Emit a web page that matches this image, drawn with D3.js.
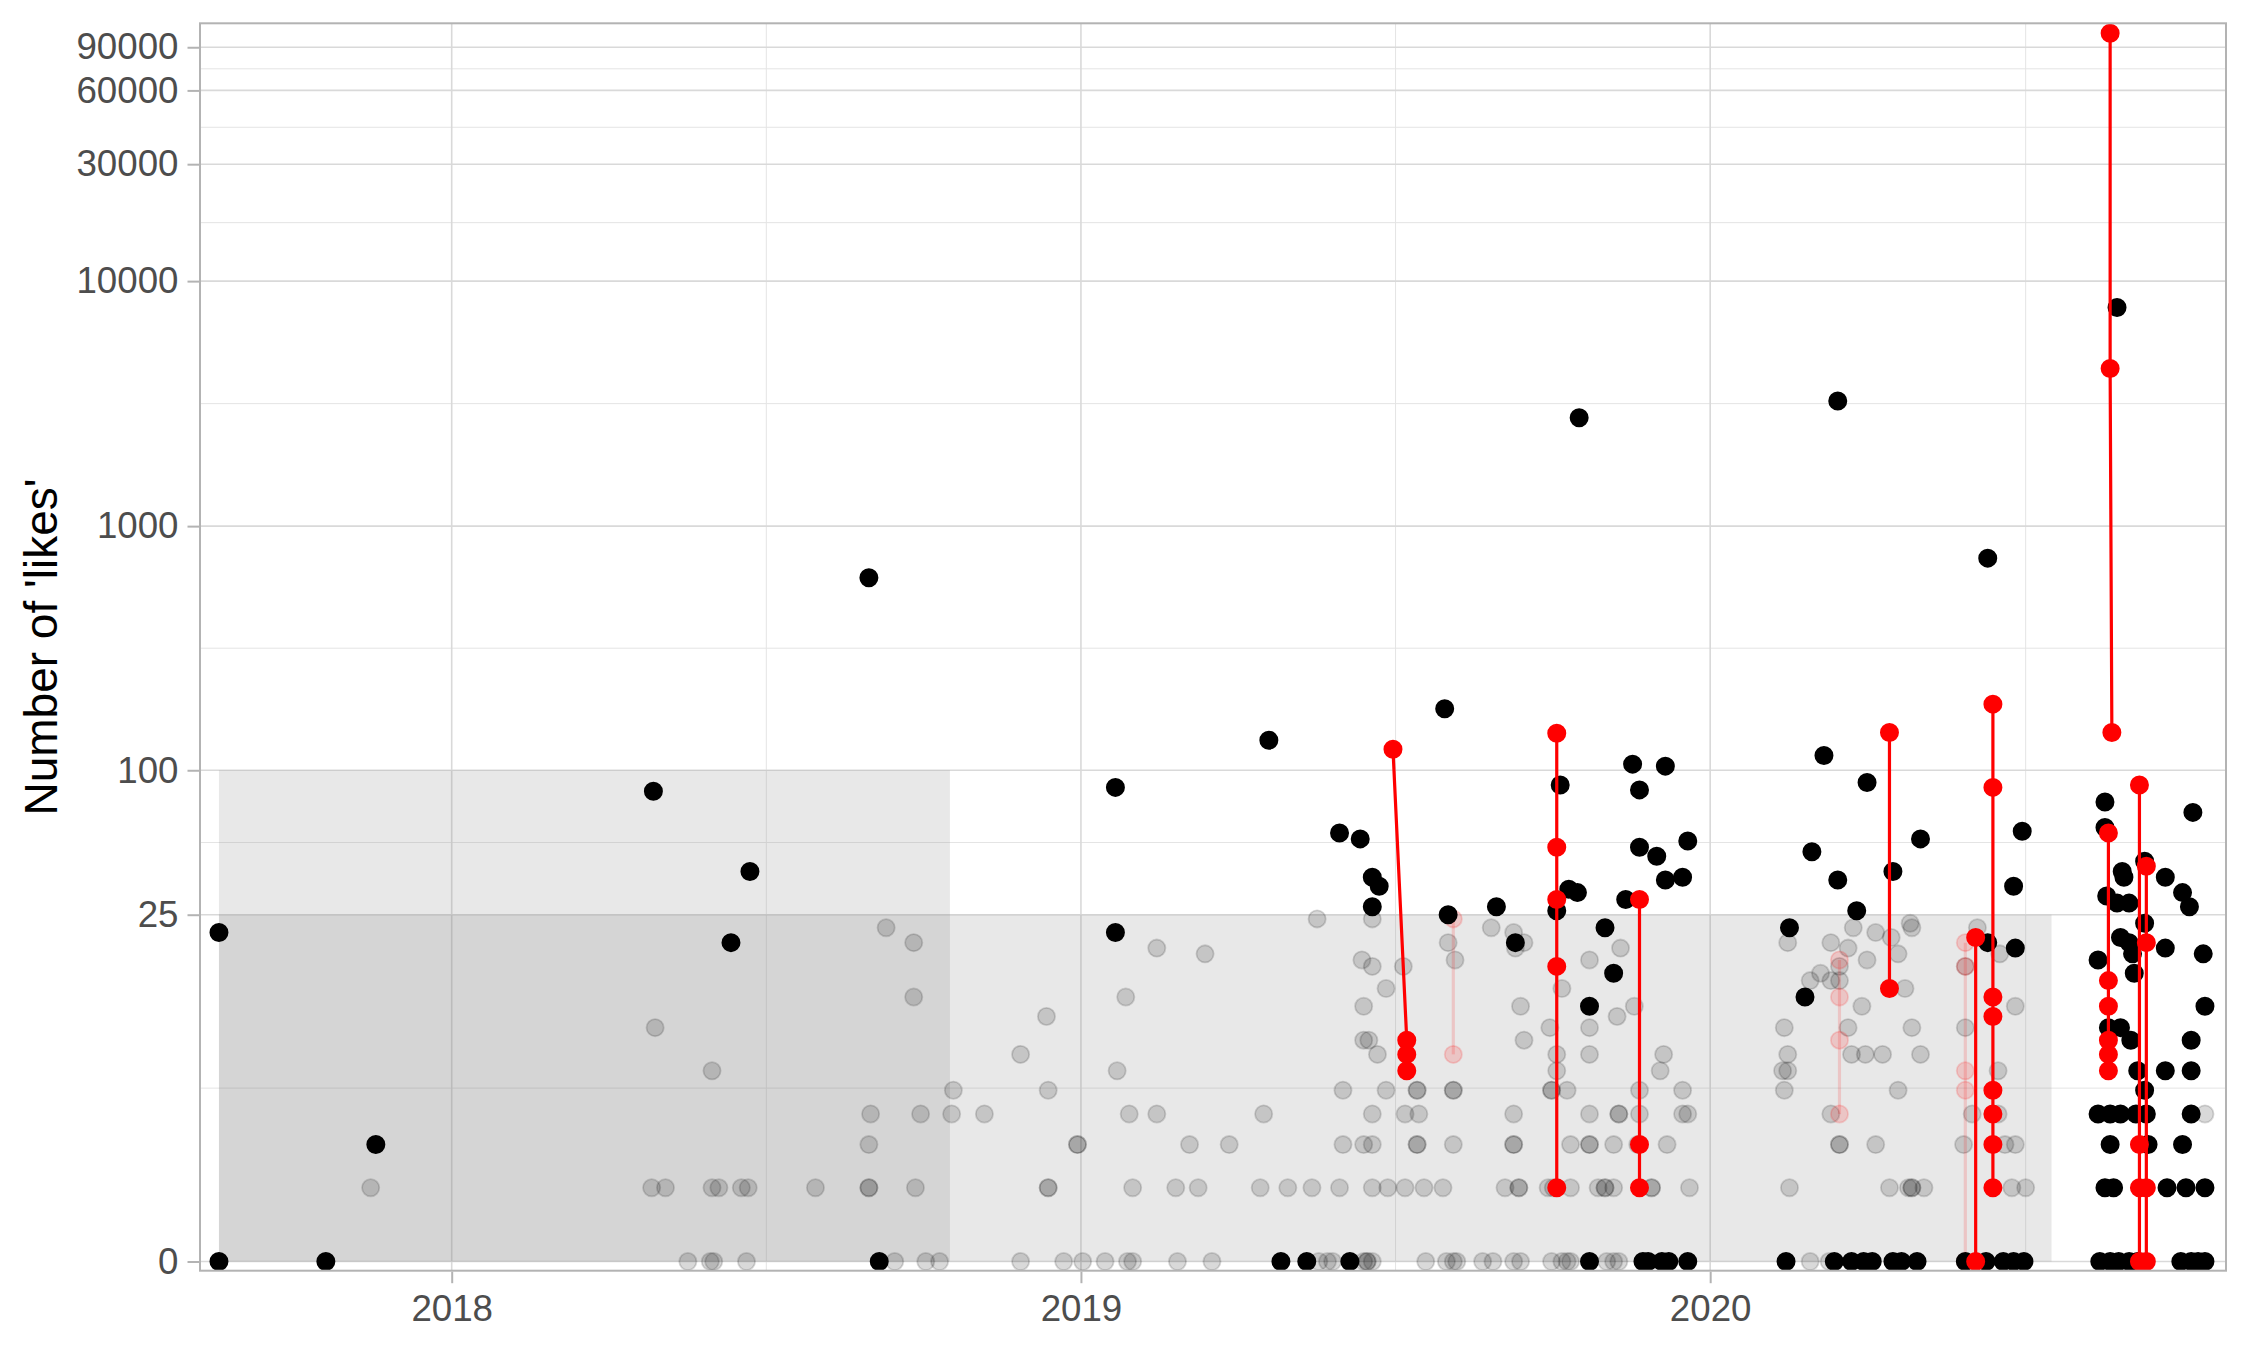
<!DOCTYPE html>
<html>
<head>
<meta charset="utf-8">
<script src="https://cdn.jsdelivr.net/npm/d3@7"></script>
<style>
  body { margin: 0; background: #fff; }
  svg { display: block; font-family: 'Liberation Sans', Arial, Helvetica, sans-serif; }
</style>
</head>
<body>
<svg width="2250" height="1350"></svg>
<script>
// posts drawn fully opaque (date, likes)
const solidPosts = [
  ['2017-08-19', 21], ['2017-08-19', 0], ['2017-10-20', 0], ['2017-11-18', 2],
  ['2018-04-28', 82], ['2018-06-12', 19], ['2018-06-23', 38], ['2018-08-31', 615], ['2018-09-06', 0],
  ['2019-01-21', 21], ['2019-01-21', 85], ['2019-04-20', 133], ['2019-04-27', 0], ['2019-05-12', 0],
  ['2019-05-31', 55], ['2019-06-06', 0], ['2019-06-12', 52], ['2019-06-19', 27], ['2019-06-19', 36],
  ['2019-06-23', 33], ['2019-07-31', 179], ['2019-08-02', 25], ['2019-08-30', 27], ['2019-09-10', 19],
  ['2019-10-04', 26], ['2019-10-06', 87], ['2019-10-11', 32], ['2019-10-16', 31], ['2019-10-17', 2770],
  ['2019-10-23', 10], ['2019-10-23', 0], ['2019-11-01', 22], ['2019-11-06', 14], ['2019-11-13', 29],
  ['2019-11-17', 106], ['2019-11-21', 83], ['2019-11-21', 48], ['2019-11-23', 0], ['2019-11-26', 0],
  ['2019-12-01', 44], ['2019-12-04', 0], ['2019-12-06', 104], ['2019-12-06', 35], ['2019-12-08', 0],
  ['2019-12-16', 36], ['2019-12-19', 51], ['2019-12-19', 0],
  ['2020-02-14', 0], ['2020-02-16', 22], ['2020-02-25', 11], ['2020-02-29', 46], ['2020-03-07', 115],
  ['2020-03-13', 0], ['2020-03-15', 3240], ['2020-03-15', 35], ['2020-03-23', 0], ['2020-03-26', 26],
  ['2020-03-30', 0], ['2020-04-01', 89], ['2020-04-04', 0], ['2020-04-16', 0], ['2020-04-16', 38],
  ['2020-04-21', 0], ['2020-04-30', 0], ['2020-05-02', 52], ['2020-05-28', 0], ['2020-06-09', 0],
  ['2020-06-10', 740], ['2020-06-10', 19], ['2020-06-19', 0], ['2020-06-25', 0], ['2020-06-25', 33],
  ['2020-06-26', 18], ['2020-06-30', 56], ['2020-07-01', 0],
  ['2020-08-13', 16], ['2020-08-13', 3], ['2020-08-14', 0], ['2020-08-17', 74], ['2020-08-17', 58],
  ['2020-08-17', 1], ['2020-08-18', 30], ['2020-08-19', 8], ['2020-08-20', 3], ['2020-08-20', 0],
  ['2020-08-20', 2], ['2020-08-22', 1], ['2020-08-24', 7800], ['2020-08-24', 28], ['2020-08-25', 0],
  ['2020-08-26', 20], ['2020-08-26', 3], ['2020-08-26', 8], ['2020-08-27', 38], ['2020-08-28', 36],
  ['2020-08-31', 28], ['2020-08-31', 19], ['2020-08-31', 0], ['2020-09-01', 7], ['2020-09-02', 17],
  ['2020-09-03', 14], ['2020-09-04', 3], ['2020-09-05', 5], ['2020-09-05', 0], ['2020-09-09', 42],
  ['2020-09-09', 23], ['2020-09-09', 4], ['2020-09-10', 3], ['2020-09-11', 2], ['2020-09-21', 36],
  ['2020-09-21', 18], ['2020-09-21', 5], ['2020-09-22', 1], ['2020-09-30', 0], ['2020-10-01', 31],
  ['2020-10-01', 2], ['2020-10-03', 1], ['2020-10-05', 27], ['2020-10-06', 3], ['2020-10-06', 5],
  ['2020-10-06', 7], ['2020-10-06', 0], ['2020-10-07', 67], ['2020-10-10', 0], ['2020-10-13', 17],
  ['2020-10-14', 10], ['2020-10-14', 1], ['2020-10-14', 0]
];

// posts drawn faded
const fadedPosts = [
  // 0 likes
  ['2018-05-18', 0], ['2018-05-31', 0], ['2018-06-02', 0], ['2018-06-21', 0], ['2018-09-15', 0],
  ['2018-10-03', 0], ['2018-10-11', 0], ['2018-11-27', 0], ['2018-12-22', 0], ['2019-01-02', 0],
  ['2019-01-15', 0], ['2019-01-28', 0], ['2019-01-31', 0], ['2019-02-26', 0], ['2019-03-18', 0],
  ['2019-05-19', 0], ['2019-05-24', 0], ['2019-05-27', 0], ['2019-06-14', 0], ['2019-06-16', 0],
  ['2019-06-16', 0], ['2019-06-19', 0], ['2019-07-20', 0], ['2019-08-01', 0], ['2019-08-05', 0],
  ['2019-08-07', 0], ['2019-08-22', 0], ['2019-08-28', 0], ['2019-09-09', 0], ['2019-09-13', 0],
  ['2019-10-01', 0], ['2019-10-07', 0], ['2019-10-10', 0], ['2019-10-12', 0], ['2019-11-02', 0],
  ['2019-11-06', 0], ['2019-11-09', 0], ['2020-02-28', 0], ['2020-03-10', 0],
  // 1 like
  ['2017-11-15', 1], ['2018-04-27', 1], ['2018-05-05', 1], ['2018-06-01', 1], ['2018-06-05', 1],
  ['2018-06-18', 1], ['2018-06-22', 1], ['2018-07-31', 1], ['2018-08-31', 1], ['2018-08-31', 1],
  ['2018-09-27', 1], ['2018-12-13', 1], ['2018-12-13', 1], ['2019-01-31', 1], ['2019-02-25', 1],
  ['2019-03-10', 1], ['2019-04-15', 1], ['2019-05-01', 1], ['2019-05-15', 1], ['2019-05-31', 1],
  ['2019-06-19', 1], ['2019-06-28', 1], ['2019-07-08', 1], ['2019-07-19', 1], ['2019-07-30', 1],
  ['2019-09-04', 1], ['2019-09-12', 1], ['2019-09-12', 1], ['2019-09-29', 1], ['2019-10-02', 1],
  ['2019-10-12', 1], ['2019-10-28', 1], ['2019-11-01', 1], ['2019-11-01', 1], ['2019-11-06', 1],
  ['2019-11-28', 1], ['2019-11-28', 1], ['2019-12-20', 1], ['2020-02-16', 1], ['2020-04-14', 1],
  ['2020-04-25', 1], ['2020-04-27', 1], ['2020-04-27', 1], ['2020-05-04', 1], ['2020-06-24', 1],
  ['2020-07-02', 1],
  // 2 likes
  ['2018-08-31', 2], ['2018-12-30', 2], ['2018-12-30', 2], ['2019-03-05', 2], ['2019-03-28', 2],
  ['2019-06-02', 2], ['2019-06-14', 2], ['2019-06-19', 2], ['2019-07-15', 2], ['2019-07-15', 2],
  ['2019-08-05', 2], ['2019-09-09', 2], ['2019-09-09', 2], ['2019-10-12', 2], ['2019-10-23', 2],
  ['2019-10-23', 2], ['2019-11-06', 2], ['2019-11-20', 2], ['2019-12-07', 2], ['2020-03-16', 2],
  ['2020-03-16', 2], ['2020-04-06', 2], ['2020-05-27', 2], ['2020-06-20', 2], ['2020-06-26', 2],
  // 3 likes
  ['2018-09-01', 3], ['2018-09-30', 3], ['2018-10-18', 3], ['2018-11-06', 3], ['2019-01-29', 3],
  ['2019-02-14', 3], ['2019-04-17', 3], ['2019-06-19', 3], ['2019-07-08', 3], ['2019-07-16', 3],
  ['2019-09-09', 3], ['2019-10-23', 3], ['2019-11-09', 3], ['2019-11-09', 3], ['2019-11-21', 3],
  ['2019-12-16', 3], ['2019-12-19', 3], ['2020-03-11', 3], ['2020-06-01', 3], ['2020-06-16', 3],
  ['2020-10-14', 3],
  // 4 likes
  ['2018-10-19', 4], ['2018-12-13', 4], ['2019-06-02', 4], ['2019-06-27', 4], ['2019-07-15', 4],
  ['2019-07-15', 4], ['2019-08-05', 4], ['2019-08-05', 4], ['2019-10-01', 4], ['2019-10-01', 4],
  ['2019-10-10', 4], ['2019-11-21', 4], ['2019-12-16', 4], ['2020-02-13', 4], ['2020-04-19', 4],
  // 5 to 9 likes
  ['2018-06-01', 5], ['2019-01-22', 5], ['2019-10-04', 5], ['2019-12-03', 5], ['2020-02-12', 5],
  ['2020-02-15', 5], ['2020-06-16', 5],
  ['2018-11-27', 6], ['2019-06-22', 6], ['2019-10-04', 6], ['2019-10-23', 6], ['2019-12-05', 6],
  ['2020-02-15', 6], ['2020-03-23', 6], ['2020-03-31', 6], ['2020-04-10', 6], ['2020-05-02', 6],
  ['2019-06-14', 7], ['2019-06-17', 7], ['2019-09-15', 7],
  ['2018-04-29', 8], ['2019-09-30', 8], ['2019-10-23', 8], ['2020-02-13', 8], ['2020-03-21', 8],
  ['2020-04-27', 8], ['2020-05-28', 8],
  ['2018-12-12', 9], ['2019-11-08', 9],
  // 10 to 24 likes
  ['2019-06-14', 10], ['2019-09-13', 10], ['2019-11-18', 10], ['2020-03-29', 10], ['2020-06-26', 10],
  ['2018-09-26', 11], ['2019-01-27', 11],
  ['2019-06-27', 12], ['2019-10-07', 12], ['2020-04-23', 12],
  ['2020-02-28', 13], ['2020-03-11', 13], ['2020-03-16', 13],
  ['2020-03-05', 14],
  ['2019-06-19', 15], ['2019-07-07', 15], ['2020-03-16', 15], ['2020-05-28', 15],
  ['2019-06-13', 16], ['2019-08-06', 16], ['2019-10-23', 16], ['2020-04-01', 16],
  ['2019-03-14', 17], ['2020-04-19', 17], ['2020-06-17', 17],
  ['2019-02-14', 18], ['2019-09-10', 18], ['2019-11-10', 18], ['2020-03-21', 18],
  ['2018-09-26', 19], ['2019-08-02', 19], ['2019-09-15', 19], ['2020-02-15', 19], ['2020-03-11', 19],
  ['2020-04-15', 20],
  ['2019-09-09', 21], ['2020-04-06', 21],
  ['2018-09-10', 22], ['2019-08-27', 22], ['2020-03-24', 22], ['2020-04-27', 22], ['2020-06-04', 22],
  ['2020-04-26', 23],
  ['2019-05-18', 24], ['2019-06-19', 24]
];

// reply threads, drawn in red and joined by a line
const threads = [
  [['2019-07-01', 122], ['2019-07-09', 7], ['2019-07-09', 6], ['2019-07-09', 5]],
  [['2019-10-04', 142], ['2019-10-04', 48], ['2019-10-04', 29], ['2019-10-04', 15], ['2019-10-04', 1]],
  [['2019-11-21', 29], ['2019-11-21', 2], ['2019-11-21', 1]],
  [['2020-04-14', 143], ['2020-04-14', 12]],
  [['2020-06-03', 20], ['2020-06-03', 0]],
  [['2020-06-13', 187], ['2020-06-13', 85], ['2020-06-13', 11], ['2020-06-13', 9],
   ['2020-06-13', 4], ['2020-06-13', 3], ['2020-06-13', 2], ['2020-06-13', 1]],
  [['2020-08-20', 102600], ['2020-08-20', 4400], ['2020-08-21', 143]],
  [['2020-08-19', 55], ['2020-08-19', 13], ['2020-08-19', 10], ['2020-08-19', 7],
   ['2020-08-19', 6], ['2020-08-19', 5]],
  [['2020-09-06', 87], ['2020-09-06', 2], ['2020-09-06', 1], ['2020-09-06', 0]],
  [['2020-09-10', 40], ['2020-09-10', 19], ['2020-09-10', 1], ['2020-09-10', 0]]
];

// faded reply threads
const fadedThreads = [
  [['2019-08-05', 24], ['2019-08-05', 6]],
  [['2020-03-16', 16], ['2020-03-16', 11], ['2020-03-16', 7], ['2020-03-16', 3]],
  [['2020-05-28', 19], ['2020-05-28', 15], ['2020-05-28', 5], ['2020-05-28', 4], ['2020-05-28', 0]]
];

// shaded windows: start, end, upper likes
const windowStarts = ['2017-08-19', '2017-08-19'];
const windowEnds = ['2018-10-17', '2020-07-17'];
const windowTops = [100, 25];

const yTicks = [0, 25, 100, 1000, 10000, 30000, 60000, 90000];
const xTicks = ['2018-01-01', '2019-01-01', '2020-01-01'];
const xDomain = ['2017-08-08', '2020-10-26'];
const yDomain = [-0.09, 112700];

const svg = d3.select('svg');
const PANEL = { LEFT: 200, TOP: 23.3, RIGHT: 2226, BOTTOM: 1270.7 };
const R = 8.6;

const parseDate = d3.utcParse('%Y-%m-%d');

// scales
const x = d3
  .scaleUtc()
  .domain([parseDate(xDomain[0]), d3.utcHour.offset(parseDate(xDomain[1]), 5)])
  .range([PANEL.LEFT, PANEL.RIGHT]);
const y = d3.scaleSymlog().constant(1).domain(yDomain).range([PANEL.BOTTOM, PANEL.TOP]);

const px = function (d) {
  return x(parseDate(d[0]));
};
const py = function (d) {
  return y(d[1]);
};

// grid
const grid = svg.append('g').attr('class', 'grid');
const xTickDates = xTicks.map(parseDate);
const xMinor = xTickDates.map(function (d) {
  const next = d3.utcYear.offset(d, 1);
  return new Date((d.getTime() + next.getTime()) / 2);
});
const yMinor = d3.pairs(yTicks).map(function (p) {
  return (y(p[0]) + y(p[1])) / 2;
});

grid
  .selectAll('.minor-y')
  .data(yMinor)
  .enter()
  .append('line')
  .attr('x1', PANEL.LEFT)
  .attr('x2', PANEL.RIGHT)
  .attr('y1', function (d) { return d; })
  .attr('y2', function (d) { return d; })
  .attr('stroke', '#e4e4e4')
  .attr('stroke-width', 1);

grid
  .selectAll('.minor-x')
  .data(xMinor)
  .enter()
  .append('line')
  .attr('x1', function (d) { return x(d); })
  .attr('x2', function (d) { return x(d); })
  .attr('y1', PANEL.TOP)
  .attr('y2', PANEL.BOTTOM)
  .attr('stroke', '#e4e4e4')
  .attr('stroke-width', 1);

grid
  .selectAll('.major-y')
  .data(yTicks)
  .enter()
  .append('line')
  .attr('x1', PANEL.LEFT)
  .attr('x2', PANEL.RIGHT)
  .attr('y1', function (d) { return y(d); })
  .attr('y2', function (d) { return y(d); })
  .attr('stroke', '#d9d9d9')
  .attr('stroke-width', 1.6);

grid
  .selectAll('.major-x')
  .data(xTickDates)
  .enter()
  .append('line')
  .attr('x1', function (d) { return x(d); })
  .attr('x2', function (d) { return x(d); })
  .attr('y1', PANEL.TOP)
  .attr('y2', PANEL.BOTTOM)
  .attr('stroke', '#d9d9d9')
  .attr('stroke-width', 1.6);

// shaded windows
svg
  .append('g')
  .selectAll('rect')
  .data(windowTops)
  .enter()
  .append('rect')
  .attr('x', function (d, i) { return x(parseDate(windowStarts[i])); })
  .attr('width', function (d, i) {
    return x(parseDate(windowEnds[i])) - x(parseDate(windowStarts[i]));
  })
  .attr('y', function (d) { return y(d); })
  .attr('height', function (d) { return y(0) - y(d); })
  .attr('fill', '#808080')
  .attr('fill-opacity', 0.18);

const line = d3.line().x(px).y(py);

function drawPoints(data, colour, alpha) {
  svg
    .append('g')
    .selectAll('circle')
    .data(data)
    .enter()
    .append('circle')
    .attr('cx', px)
    .attr('cy', py)
    .attr('r', R)
    .attr('fill', colour)
    .attr('fill-opacity', alpha)
    .attr('stroke', colour)
    .attr('stroke-opacity', alpha)
    .attr('stroke-width', 1.8);
}

drawPoints(fadedPosts, '#000000', 0.15);

// faded threads
svg
  .append('g')
  .selectAll('path')
  .data(fadedThreads)
  .enter()
  .append('path')
  .attr('d', line)
  .attr('fill', 'none')
  .attr('stroke', '#ff0000')
  .attr('stroke-opacity', 0.15)
  .attr('stroke-width', 3.2);
drawPoints(d3.merge(fadedThreads), '#ff0000', 0.15);

drawPoints(solidPosts, '#000000', 1);

// threads
svg
  .append('g')
  .selectAll('path')
  .data(threads)
  .enter()
  .append('path')
  .attr('d', line)
  .attr('fill', 'none')
  .attr('stroke', '#ff0000')
  .attr('stroke-width', 3.2);
drawPoints(d3.merge(threads), '#ff0000', 1);

// panel border
svg
  .append('rect')
  .attr('x', PANEL.LEFT)
  .attr('y', PANEL.TOP)
  .attr('width', PANEL.RIGHT - PANEL.LEFT)
  .attr('height', PANEL.BOTTOM - PANEL.TOP)
  .attr('fill', 'none')
  .attr('stroke', '#b3b3b3')
  .attr('stroke-width', 2);

// axes
const yAxis = svg
  .append('g')
  .attr('transform', 'translate(' + (PANEL.LEFT - 1) + ',0)')
  .call(
    d3.axisLeft(y).tickValues(yTicks).tickFormat(d3.format('d')).tickSize(11.5).tickPadding(9)
  );

const xAxis = svg
  .append('g')
  .attr('transform', 'translate(0,' + (PANEL.BOTTOM + 1) + ')')
  .call(
    d3.axisBottom(x).tickValues(xTickDates).tickFormat(d3.utcFormat('%Y')).tickSize(11.5).tickPadding(12)
  );

[yAxis, xAxis].forEach(function (a) {
  a.attr('font-family', null).attr('font-size', null);
  a.select('.domain').remove();
  a.selectAll('.tick line').attr('stroke', '#b3b3b3').attr('stroke-width', 2);
  a.selectAll('.tick text').style('font-size', '36.7px').attr('fill', '#4d4d4d');
});

svg
  .append('text')
  .attr('transform', 'translate(57,' + (PANEL.TOP + PANEL.BOTTOM) / 2 + ') rotate(-90)')
  .attr('text-anchor', 'middle')
  .style('font-size', '46px')
  .attr('fill', '#000')
  .text("Number of 'likes'");
</script>
</body>
</html>
